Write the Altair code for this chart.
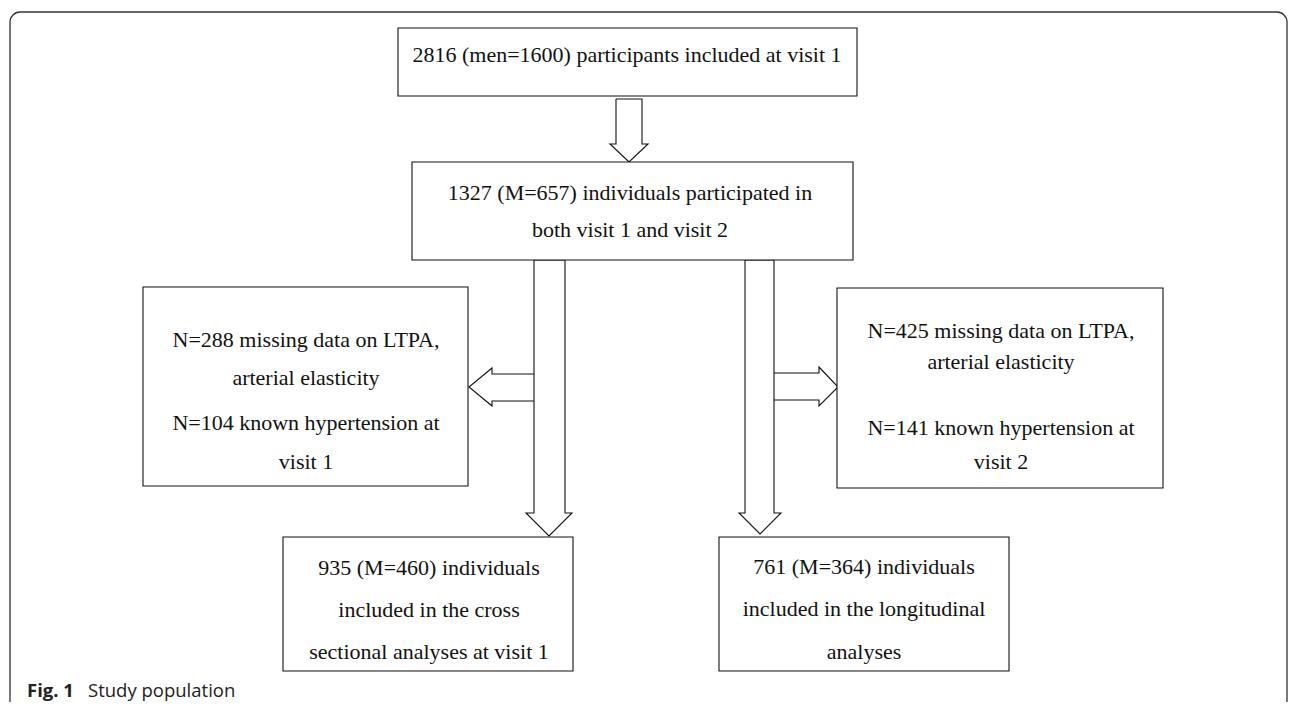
import altair as alt
import pandas as pd

# ---- flowchart content (page-pixel layout coordinates) ----
box_names = ["top", "both", "excl1", "excl2", "cross", "longi"]
box_x0 = [398, 412, 143, 837, 283, 719]
box_x1 = [857, 853, 468, 1163, 573, 1009]
box_y0 = [28, 162, 287, 288, 537, 537]
box_y1 = [96, 260, 486, 488, 671, 671]

text_lines = [
    "2816 (men=1600) participants included at visit 1",
    "1327 (M=657) individuals participated in",
    "both visit 1 and visit 2",
    "N=288 missing data on LTPA,",
    "arterial elasticity",
    "N=104 known hypertension at",
    "visit 1",
    "N=425 missing data on LTPA,",
    "arterial elasticity",
    "N=141 known hypertension at",
    "visit 2",
    "935 (M=460) individuals",
    "included in the cross",
    "sectional analyses at visit 1",
    "761 (M=364) individuals",
    "included in the longitudinal",
    "analyses",
]
text_x = [627, 630, 630, 306, 306, 306, 306, 1001, 1001, 1001, 1001, 429, 429, 429, 864, 864, 864]
text_y = [55, 193, 230, 340, 378, 423, 462, 331, 362, 428, 462, 568, 610, 652, 567, 609, 652]

# block arrows as polylines
arrow_ids = ["down1"] * 8 + ["downL"] * 8 + ["downR"] * 8 + ["left"] * 7 + ["right"] * 7
arrow_x = [616, 642, 642, 648, 629, 610, 616, 616,
           534, 534, 526, 549, 572, 565, 565, 534,
           745, 745, 739, 760, 781, 774, 774, 745,
           534, 492, 492, 469, 492, 492, 534,
           774, 819, 819, 838, 819, 819, 774]
arrow_y = [99, 99, 144, 144, 162, 144, 144, 99,
           260, 513, 513, 536, 513, 513, 260, 260,
           260, 513, 513, 534, 513, 513, 260, 260,
           374, 374, 368, 387, 406, 401, 401,
           373, 373, 367, 387, 406, 400, 400]

frame_x = [10]
frame_x2 = [1287]
frame_y = [12]
frame_y2 = [760]

caption_bold = "Fig. 1"
caption_text = "Study population"

# ---- build ----
W, H = 1280, 694
xs = alt.Scale(domain=[8, 8 + W], nice=False, zero=False)
ys = alt.Scale(domain=[8, 8 + H], nice=False, zero=False, reverse=True)

boxes = pd.DataFrame({"name": box_names, "x0": box_x0, "x1": box_x1, "y0": box_y0, "y1": box_y1})
texts = pd.DataFrame({"t": text_lines, "x": text_x, "y": text_y})
arrows = pd.DataFrame({"id": arrow_ids, "x": arrow_x, "y": arrow_y,
                       "i": list(range(len(arrow_x)))})
frame = pd.DataFrame({"x": frame_x, "x2": frame_x2, "y": frame_y, "y2": frame_y2})
caps = pd.DataFrame({"t": [caption_bold, caption_text], "x": [27, 88], "y": [697, 697],
                     "w": ["bold", "normal"]})

frame_layer = alt.Chart(frame).mark_rect(
    fillOpacity=0, stroke="#333333", strokeWidth=1.3, cornerRadius=10, clip=True
).encode(
    x=alt.X("x:Q", scale=xs, axis=None), x2="x2:Q",
    y=alt.Y("y:Q", scale=ys, axis=None), y2="y2:Q",
)

box_layer = alt.Chart(boxes).mark_rect(
    fill="white", stroke="#111111", strokeWidth=1.1
).encode(
    x=alt.X("x0:Q", scale=xs, axis=None), x2="x1:Q",
    y=alt.Y("y0:Q", scale=ys, axis=None), y2="y1:Q",
)

arrow_layer = alt.Chart(arrows).mark_line(
    color="#111111", strokeWidth=1.1, strokeJoin="miter"
).encode(
    x=alt.X("x:Q", scale=xs, axis=None),
    y=alt.Y("y:Q", scale=ys, axis=None),
    detail="id:N",
    order="i:Q",
)

text_layer = alt.Chart(texts).mark_text(
    font="Liberation Serif", fontSize=22, align="center", baseline="middle", color="#111111"
).encode(
    x=alt.X("x:Q", scale=xs, axis=None),
    y=alt.Y("y:Q", scale=ys, axis=None),
    text="t:N",
)

cap_bold = alt.Chart(caps[caps.w == "bold"]).mark_text(
    font="Open Sans", fontSize=18.5, fontWeight="bold", align="left", baseline="alphabetic",
    color="#222222"
).encode(
    x=alt.X("x:Q", scale=xs, axis=None),
    y=alt.Y("y:Q", scale=ys, axis=None),
    text="t:N",
)
cap_norm = alt.Chart(caps[caps.w == "normal"]).mark_text(
    font="Open Sans", fontSize=18.5, align="left", baseline="alphabetic", color="#222222"
).encode(
    x=alt.X("x:Q", scale=xs, axis=None),
    y=alt.Y("y:Q", scale=ys, axis=None),
    text="t:N",
)

chart = alt.layer(
    frame_layer, arrow_layer, box_layer, text_layer, cap_bold, cap_norm
).properties(
    width=W, height=H, autosize=alt.AutoSizeParams(type="none"), padding=0,
    background="white",
).configure_view(strokeWidth=0)

chart.save("out.html", embed_options={"renderer": "svg", "actions": False})
